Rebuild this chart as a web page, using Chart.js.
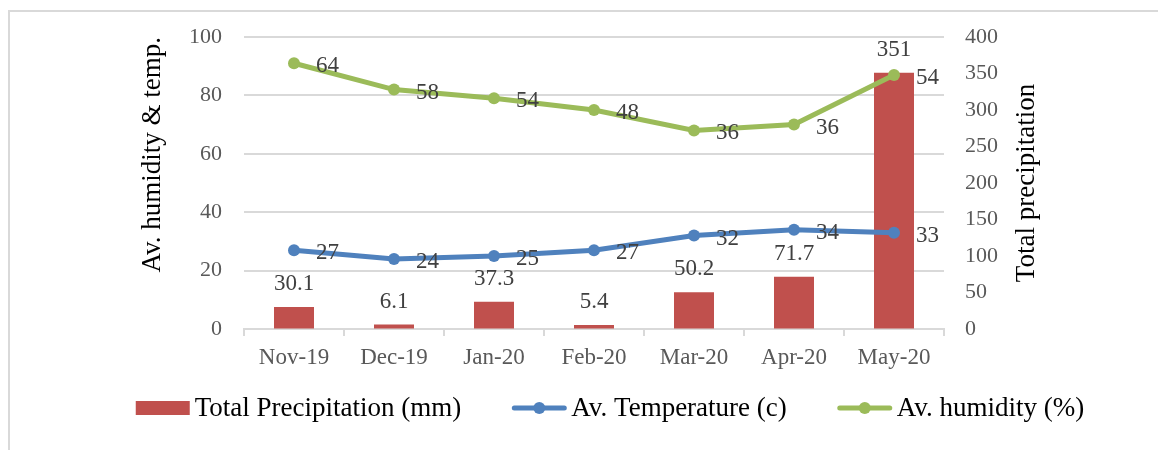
<!DOCTYPE html>
<html>
<head>
<meta charset="utf-8">
<script src="https://cdn.jsdelivr.net/npm/chart.js@4.4.1/dist/chart.umd.min.js"></script>
<style>
    body { margin: 0; background: #fff; }
    #wrap { width: 1158px; height: 450px; }
</style>
</head>
<body>
<div id="wrap"><canvas id="chart" width="1158" height="450"></canvas></div>
<script>
// data
const months = ["Nov-19", "Dec-19", "Jan-20", "Feb-20", "Mar-20", "Apr-20", "May-20"];
const precipitation = [30.1, 6.1, 37.3, 5.4, 50.2, 71.7, 351];
const temperature = [27, 24, 25, 27, 32, 34, 33];
// humidity points sit where they are plotted, but the labels show other numbers
const humidity = [91, 82, 79, 75, 68, 70, 87];
const humidityLabels = [64, 58, 54, 48, 36, 36, 54];
const leftTicks = [0, 20, 40, 60, 80, 100];
const rightTicks = [0, 50, 100, 150, 200, 250, 300, 350, 400];

const serif = "'Liberation Serif', 'Times New Roman', serif";
const red = '#C0504D', blue = '#4F81BD', green = '#9BBB59';

// labels next to bars and points
const valueLabels = {
    id: 'valueLabels',
    afterDatasetsDraw(chart) {
        let ctx = chart.ctx;
        ctx.save();
        ctx.font = '23px ' + serif;
        ctx.fillStyle = '#404040';
        chart.data.datasets.forEach(function (ds, i) {
            let meta = chart.getDatasetMeta(i);
            meta.data.forEach(function (el, j) {
                let txt = ds.labelsText ? ds.labelsText[j] : ds.data[j];
                if (ds.type === 'bar') {
                    ctx.textAlign = 'center';
                    ctx.textBaseline = 'alphabetic';
                    ctx.fillText(String(txt), el.x, el.y - 17);
                } else {
                    ctx.textAlign = 'left';
                    ctx.textBaseline = 'alphabetic';
                    ctx.fillText(String(txt), el.x + 22, el.y + 9);
                }
            });
        });
        ctx.restore();
    }
};

// frame, right axis title (reads bottom to top) and legend at bottom
const frameLegend = {
    id: 'frameLegend',
    beforeDraw(chart) {
        let ctx = chart.ctx;
        ctx.save();
        ctx.fillStyle = '#fff';
        ctx.fillRect(0, 0, chart.width, chart.height);
        ctx.strokeStyle = '#d9d9d9';
        ctx.lineWidth = 2;
        ctx.strokeRect(9, 11, 2000, 2000);
        ctx.restore();
    },
    afterDraw(chart) {
        let ctx = chart.ctx;
        let area = chart.chartArea;
        ctx.save();
        ctx.font = '27px ' + serif;
        ctx.fillStyle = '#000';
        ctx.translate(1027, (area.top + area.bottom) / 2);
        ctx.rotate(-Math.PI / 2);
        ctx.textAlign = 'center';
        ctx.textBaseline = 'middle';
        ctx.fillText('Total precipitation', 0, 0);
        ctx.restore();

        ctx.save();
        ctx.font = '27px ' + serif;
        let items = chart.data.datasets.map(function (ds) {
            return { text: ds.label, color: ds.backgroundColor, bar: ds.type === 'bar' };
        });
        let markerW = 54, gap = 5, itemGap = 51;
        let total = 0;
        items.forEach(function (it, i) {
            it.w = markerW + gap + ctx.measureText(it.text).width;
            total += it.w + (i > 0 ? itemGap : 0);
        });
        let x = 610 - total / 2;
        let y = 408;
        items.forEach(function (it) {
            if (it.bar) {
                ctx.fillStyle = it.color;
                ctx.fillRect(x, y - 7, markerW, 14);
            } else {
                ctx.strokeStyle = it.color;
                ctx.lineWidth = 5;
                ctx.lineCap = 'round';
                ctx.beginPath();
                ctx.moveTo(x + 2, y);
                ctx.lineTo(x + markerW - 2, y);
                ctx.stroke();
                ctx.fillStyle = it.color;
                ctx.beginPath();
                ctx.arc(x + markerW / 2, y, 6, 0, Math.PI * 2);
                ctx.fill();
            }
            ctx.fillStyle = '#000';
            ctx.textAlign = 'left';
            ctx.textBaseline = 'middle';
            ctx.fillText(it.text, x + markerW + gap, y + 1);
            x += it.w + itemGap;
        });
        ctx.restore();
    }
};

new Chart(document.getElementById('chart'), {
    data: {
        labels: months,
        datasets: [
            {
                type: 'bar',
                label: 'Total Precipitation (mm)',
                data: precipitation,
                yAxisID: 'y1',
                backgroundColor: red,
                barPercentage: 0.4,
                categoryPercentage: 1,
                order: 3
            },
            {
                type: 'line',
                label: 'Av. Temperature (c)',
                data: temperature,
                yAxisID: 'y',
                borderColor: blue,
                backgroundColor: blue,
                borderWidth: 5,
                pointRadius: 6,
                pointBorderWidth: 0,
                tension: 0,
                order: 2
            },
            {
                type: 'line',
                label: 'Av. humidity (%)',
                data: humidity,
                labelsText: humidityLabels,
                yAxisID: 'y',
                borderColor: green,
                backgroundColor: green,
                borderWidth: 5,
                pointRadius: 6,
                pointBorderWidth: 0,
                tension: 0,
                order: 1
            }
        ]
    },
    options: {
        responsive: false,
        animation: false,
        layout: { padding: { left: 133, right: 111, top: 37, bottom: 81 } },
        plugins: {
            legend: { display: false },
            tooltip: { enabled: false }
        },
        scales: {
            x: {
                offset: true,
                grid: { offset: true, drawOnChartArea: false, drawTicks: true, tickLength: 7, color: '#d9d9d9', lineWidth: 2 },
                border: { color: '#d9d9d9', width: 2 },
                ticks: { color: '#595959', font: { family: serif, size: 23 }, padding: 8, maxRotation: 0 },
                afterFit: function (s) { s.height = 40; }
            },
            y: {
                position: 'left',
                min: 0, max: 100,
                afterBuildTicks: function (s) { s.ticks = leftTicks.map(v => ({ value: v })); },
                grid: { color: '#d9d9d9', lineWidth: 2, drawTicks: false },
                border: { display: false },
                ticks: { color: '#595959', font: { family: serif, size: 22 }, padding: 22 },
                title: { display: true, text: 'Av. humidity & temp.', align: 'end', color: '#000', font: { family: serif, size: 27 }, padding: { top: 4, bottom: 0 } },
                afterFit: function (s) { s.width = 111; }
            },
            y1: {
                position: 'right',
                min: 0, max: 400,
                afterBuildTicks: function (s) { s.ticks = rightTicks.map(v => ({ value: v })); },
                grid: { drawOnChartArea: false, drawTicks: false },
                border: { display: false },
                ticks: { color: '#595959', font: { family: serif, size: 22 }, padding: 21 },
                afterFit: function (s) { s.width = 103; }
            }
        }
    },
    plugins: [frameLegend, valueLabels]
});
</script>
</body>
</html>
